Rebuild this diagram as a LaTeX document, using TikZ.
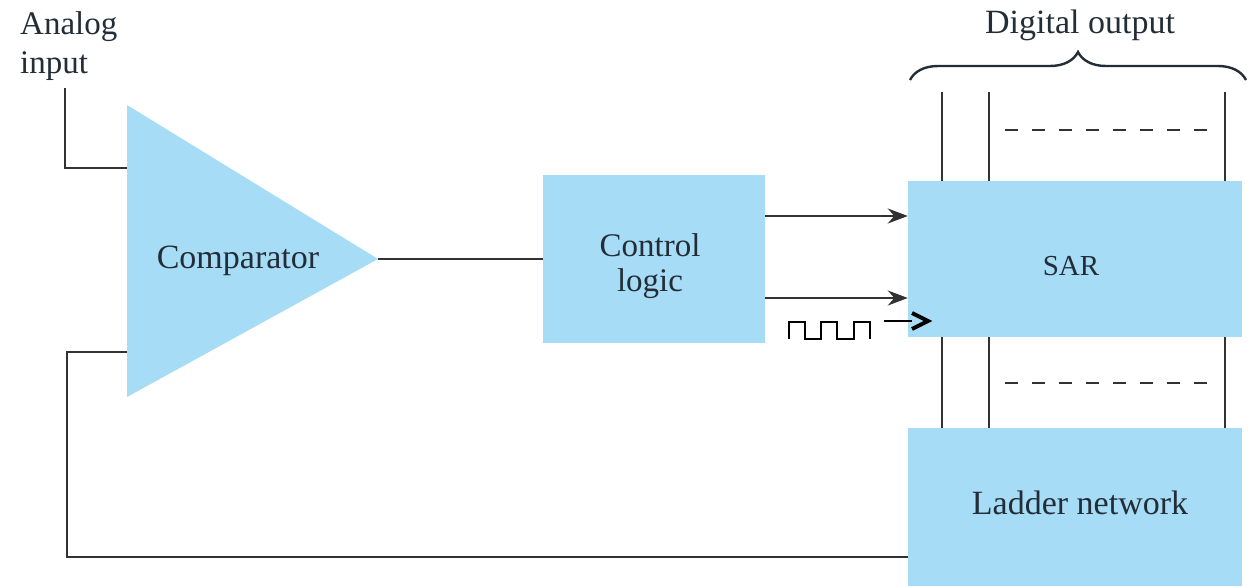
\documentclass[tikz,border=0pt]{standalone}
\usepackage{fontspec}
\setmainfont{Liberation Serif}
\usetikzlibrary{arrows.meta,decorations.pathreplacing}
\definecolor{blockblue}{RGB}{166,220,245}
\definecolor{wire}{RGB}{50,50,50}
\definecolor{ink}{RGB}{35,45,55}
\tikzset{
  block/.style={fill=blockblue,draw=none,inner sep=0pt},
  wireline/.style={draw=wire,line width=2.4pt},
  label/.style={text=ink,inner sep=0pt,font=\fontsize{34}{38}\selectfont},
  busdash/.style={draw=wire,line width=2.4pt,dash pattern=on 13pt off 14pt},
  sigarrow/.style={wireline,-{Stealth[length=20pt,width=15pt]}}
}
\begin{document}
\begin{tikzpicture}[x=1pt,y=-1pt]
\useasboundingbox (0,0) rectangle (1256,586);
% comparator
\coordinate (cmpTL) at (127,105);
\coordinate (cmpBL) at (127,397);
\coordinate (cmpOut) at (378,259);
\fill[blockblue] (cmpTL) -- (cmpOut) -- (cmpBL) -- cycle;
\node[label] (cmp) at (238,261) {Comparator};
% blocks
\node[block,minimum width=222pt,minimum height=168pt] (ctl) at (654,259) {};
\node[label,align=center,font=\fontsize{33}{35}\selectfont] (ctltxt) at (650,266) {Control\\logic};
\node[block,minimum width=334pt,minimum height=156pt] (sar) at (1075,259) {};
\node[label,font=\fontsize{29}{34}\selectfont] (sartxt) at (1071,266) {SAR};
\node[block,minimum width=334pt,minimum height=158pt] (lad) at (1075,507) {};
\node[label] (ladtxt) at (1080,503) {Ladder network};
% input label and wire
\node[label,align=left,anchor=north west,font=\fontsize{33}{39}\selectfont] (ain) at (20,11) {Analog\\input};
\coordinate (ainTop) at (65,88);
\coordinate (cmpPlus) at (127,168);
\draw[wireline] (ainTop) |- (cmpPlus);
% feedback from ladder network
\coordinate (cmpMinus) at (127,352);
\draw[wireline] (cmpMinus) -- (67,352) |- (lad.west |- 0,557);
% comparator to control logic
\draw[wireline] (cmpOut) -- (ctl.west |- cmpOut);
% control lines to SAR
\draw[sigarrow] (ctl.east |- 0,216) -- (sar.west |- 0,216);
\draw[sigarrow] (ctl.east |- 0,298) -- (sar.west |- 0,298);
% clock
\draw[draw=black,line width=1.8pt] (789,339) -- (789,322) -- (805,322) -- (805,339) -- (821,339) -- (821,322)
  -- (837,322) -- (837,339) -- (854,339) -- (854,322) -- (870,322) -- (870,339);
\coordinate (clkIn) at (912,321);
\draw[draw=black,line width=1.6pt] (884,321) -- (clkIn);
\draw[draw=black,line width=4pt,line join=miter] (912,313) -- (928,321) -- (912,329);
% bus lines between SAR and ladder, and digital outputs
\foreach \bx in {942,989,1225}{
  \draw[wireline] (\bx,92) -- (\bx,181);
  \draw[wireline] (\bx,337) -- (\bx,428);
}
\draw[busdash] (1005,130) -- (1220,130);
\draw[busdash] (1005,383) -- (1220,383);
% brace and output label
\draw[draw=ink,line width=2.4pt,decorate,decoration={brace,amplitude=28pt,aspect=0.5}] (910,80) -- (1246,80);
\node[label,font=\fontsize{34}{38}\selectfont] (dout) at (1080,25) {Digital output};
\end{tikzpicture}
\end{document}
